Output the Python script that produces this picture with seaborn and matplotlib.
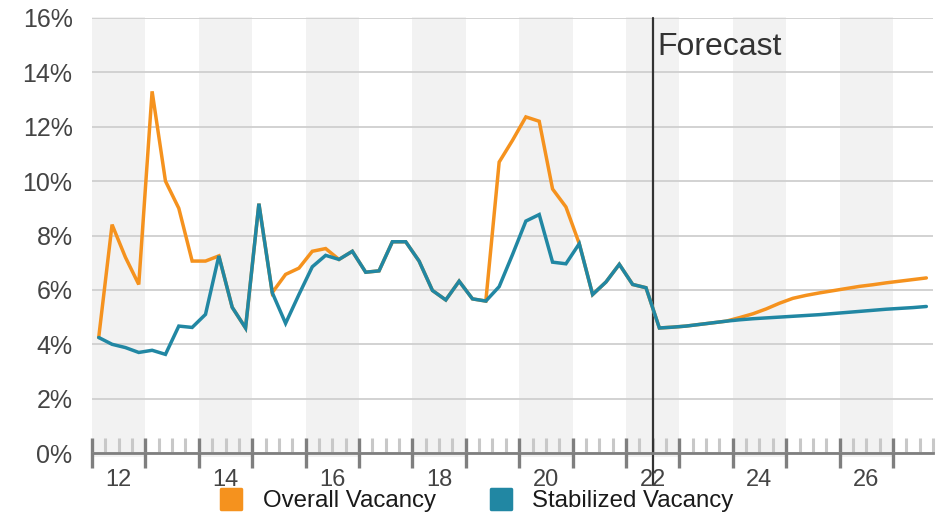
import numpy as np
import pandas as pd
import matplotlib
matplotlib.use("Agg")
import matplotlib.pyplot as plt
import seaborn as sns
from matplotlib.lines import Line2D
from matplotlib.markers import MarkerStyle
from matplotlib.ticker import FixedLocator, FuncFormatter

# ---------------- data (quarterly, 2012Q1 .. 2027Q3) ----------------
quarter_idx = list(range(63))
stabilized = [
    4.25, 4.00, 3.88, 3.70, 3.78, 3.63, 4.67, 4.62, 5.10, 7.25,
    5.36, 4.60, 9.17, 5.90, 4.77, 5.83, 6.85, 7.27, 7.12, 7.42,
    6.65, 6.70, 7.77, 7.77, 7.06, 5.98, 5.63, 6.32, 5.67, 5.59,
    6.12, 7.30, 8.53, 8.77, 7.02, 6.96, 7.70, 5.83, 6.29, 6.94,
    6.20, 6.08, 4.60, 4.63, 4.67, 4.73, 4.79, 4.85, 4.90, 4.94,
    4.97, 5.00, 5.03, 5.06, 5.09, 5.13, 5.17, 5.21, 5.25, 5.29,
    5.32, 5.35, 5.39,
]
overall = [
    4.25, 8.40, 7.20, 6.20, 13.30, 10.00, 9.00, 7.06, 7.06, 7.25,
    5.36, 4.60, 9.17, 5.90, 6.57, 6.80, 7.42, 7.52, 7.12, 7.42,
    6.65, 6.70, 7.77, 7.77, 7.06, 5.98, 5.63, 6.32, 5.67, 5.59,
    10.70, 11.50, 12.36, 12.20, 9.71, 9.05, 7.70, 5.83, 6.29, 6.94,
    6.20, 6.08, 4.60, 4.63, 4.67, 4.73, 4.79, 4.85, 4.98, 5.12,
    5.30, 5.51, 5.69, 5.80, 5.89, 5.97, 6.05, 6.13, 6.19, 6.26,
    6.32, 6.38, 6.44,
]
series_names = ["Overall Vacancy", "Stabilized Vacancy"]
series_colors = ["#F5921E", "#2187A3"]
year_labels = ["12", "13", "14", "15", "16", "17", "18", "19",
               "20", "21", "22", "23", "24", "25", "26", "27"]
y_ticks = [0, 2, 4, 6, 8, 10, 12, 14, 16]
forecast_start = 42  # quarter boundary (mid-2022)
forecast_label = "Forecast"

# ---------------- style ----------------
sns.set_style("white")
plt.rcParams["font.family"] = ["Liberation Sans", "DejaVu Sans"]

fig = plt.figure(figsize=(9.43, 5.16), dpi=100)
ax = fig.add_axes([0.0976, 0.1219, 0.8918, 0.8434])

n_q = len(quarter_idx)
x_pos = np.array(quarter_idx) + 0.5
df = pd.DataFrame({
    "x": np.concatenate([x_pos, x_pos]),
    "v": overall + stabilized,
    "series": [series_names[0]] * n_q + [series_names[1]] * n_q,
})

# alternating year bands
for i in range(len(year_labels)):
    if i % 2 == 0:
        ax.axvspan(i * 4, i * 4 + 4, ymin=-0.008, ymax=1.002, color="#F2F2F2",
                   lw=0, zorder=0, clip_on=False)

ax.set_axisbelow(True)
ax.yaxis.grid(True, color="#CFCFCF", lw=1.3)
ax.xaxis.grid(False)

sns.lineplot(data=df, x="x", y="v", hue="series", hue_order=series_names,
             palette=series_colors, estimator=None, lw=2.5, legend=False,
             ax=ax, zorder=3)
for ln in ax.get_lines():
    ln.set_solid_joinstyle("miter")

ax.set_xlim(0, 63)
ax.set_ylim(0, 16)
ax.set_xlabel("")
ax.set_ylabel("")

# y axis
ax.set_yticks(y_ticks)
ax.yaxis.set_major_formatter(FuncFormatter(lambda v, p: f"{int(v)}%"))
ax.tick_params(axis="y", left=False, length=0, pad=14, labelsize=18,
               labelcolor="#444444")

# x axis ruler
ax.set_xticks(np.arange(0, 64, 4))
ax.xaxis.set_minor_locator(FixedLocator([q for q in range(64) if q % 4]))
ax.tick_params(axis="x", which="major", bottom=True, direction="inout",
               length=21.6, width=2.4, color="#7F7F7F", labelbottom=False)
ax.tick_params(axis="x", which="minor", bottom=True, direction="in",
               length=10.8, width=2.2, color="#C8C8C8")
for i, lab in enumerate(year_labels):
    if i % 2 == 0:
        ax.text(i * 4 + 2, -0.062, lab, transform=ax.get_xaxis_transform(),
                ha="center", va="center", fontsize=17, color="#444444")

for s in ["left", "top", "right"]:
    ax.spines[s].set_visible(False)
ax.spines["bottom"].set_color("#7F7F7F")
ax.spines["bottom"].set_linewidth(2.0)
ax.spines["bottom"].set_zorder(4)

# forecast marker
ax.axvline(forecast_start, ymin=-0.073, ymax=1.0, color="#333333", lw=1.6,
           clip_on=False, zorder=2)
ax.text(forecast_start + 0.35, 14.64, forecast_label, fontsize=23,
        color="#333333", ha="left", va="baseline")

# legend
handles = [Line2D([0], [0], linestyle="none",
                  marker=MarkerStyle("s", joinstyle="round"),
                  markersize=15, markerfacecolor=c, markeredgecolor=c,
                  markeredgewidth=2.5) for c in series_colors]
fig.legend(handles, series_names, loc="center", bbox_to_anchor=(0.505, 0.029),
           ncol=2, frameon=False, fontsize=17.3, handlelength=1.0,
           handletextpad=0.8, columnspacing=2.2, labelcolor="#1A1A1A")

fig.savefig("out.png", dpi=100)
